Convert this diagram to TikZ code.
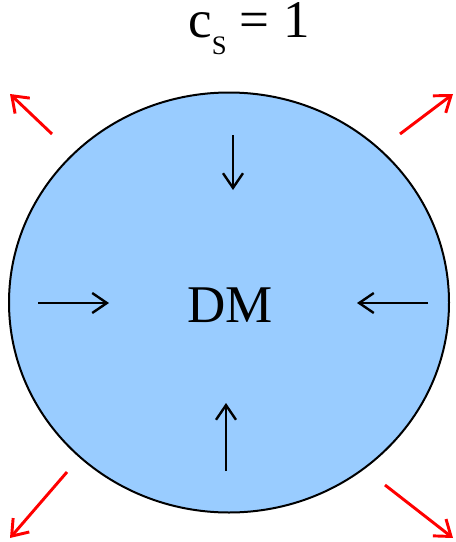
\documentclass[tikz,border=0pt]{standalone}
\usepackage{fontspec}
\setmainfont{Liberation Serif}
\usetikzlibrary{arrows.meta,shapes.geometric}
\definecolor{blobblue}{HTML}{99CCFF}
\begin{document}
\begin{tikzpicture}[x=0.75pt,y=-0.75pt,
  blob/.style={draw=black,line width=1.5pt,fill=blobblue},
  push/.style={draw=black,line width=1.8pt,-{Straight Barb[length=11pt,width=15pt,line width=1.8pt]}},
  burst/.style={draw=red,line width=2.2pt,-{Straight Barb[length=11pt,width=16pt,line width=2.2pt]}},
  lbl/.style={inner sep=0pt,anchor=base}
]
\useasboundingbox (0,0) rectangle (455,542);
\node[blob,ellipse,minimum width=330pt,minimum height=315pt,inner sep=0pt] (cloud) at (229,302.5) {};
\node[lbl,font=\fontsize{39.75pt}{44pt}\selectfont] (title) at (249,38)
  {c\raisebox{-12.75pt}{\fontsize{20pt}{22pt}\selectfont S} = 1};
\node[lbl,font=\fontsize{39.75pt}{44pt}\selectfont] (dm) at (230,322) {DM};
% inward arrows
\coordinate (t0) at (233,135); \coordinate (t1) at (233,190);
\coordinate (l0) at (38,303);  \coordinate (l1) at (109,303);
\coordinate (r0) at (428,303); \coordinate (r1) at (357,303);
\coordinate (b0) at (226,471); \coordinate (b1) at (226,403);
\draw[push] (t0) -- (t1);
\draw[push] (l0) -- (l1);
\draw[push] (r0) -- (r1);
\draw[push] (b0) -- (b1);
% outward arrows
\coordinate (a0) at (52,134);  \coordinate (a1) at (10,94);
\coordinate (c0) at (400,134); \coordinate (c1) at (453,94);
\coordinate (d0) at (67,472);  \coordinate (d1) at (10,538);
\coordinate (e0) at (385,485); \coordinate (e1) at (453,538);
\draw[burst] (a0) -- (a1);
\draw[burst] (c0) -- (c1);
\draw[burst] (d0) -- (d1);
\draw[burst] (e0) -- (e1);
\end{tikzpicture}
\end{document}
